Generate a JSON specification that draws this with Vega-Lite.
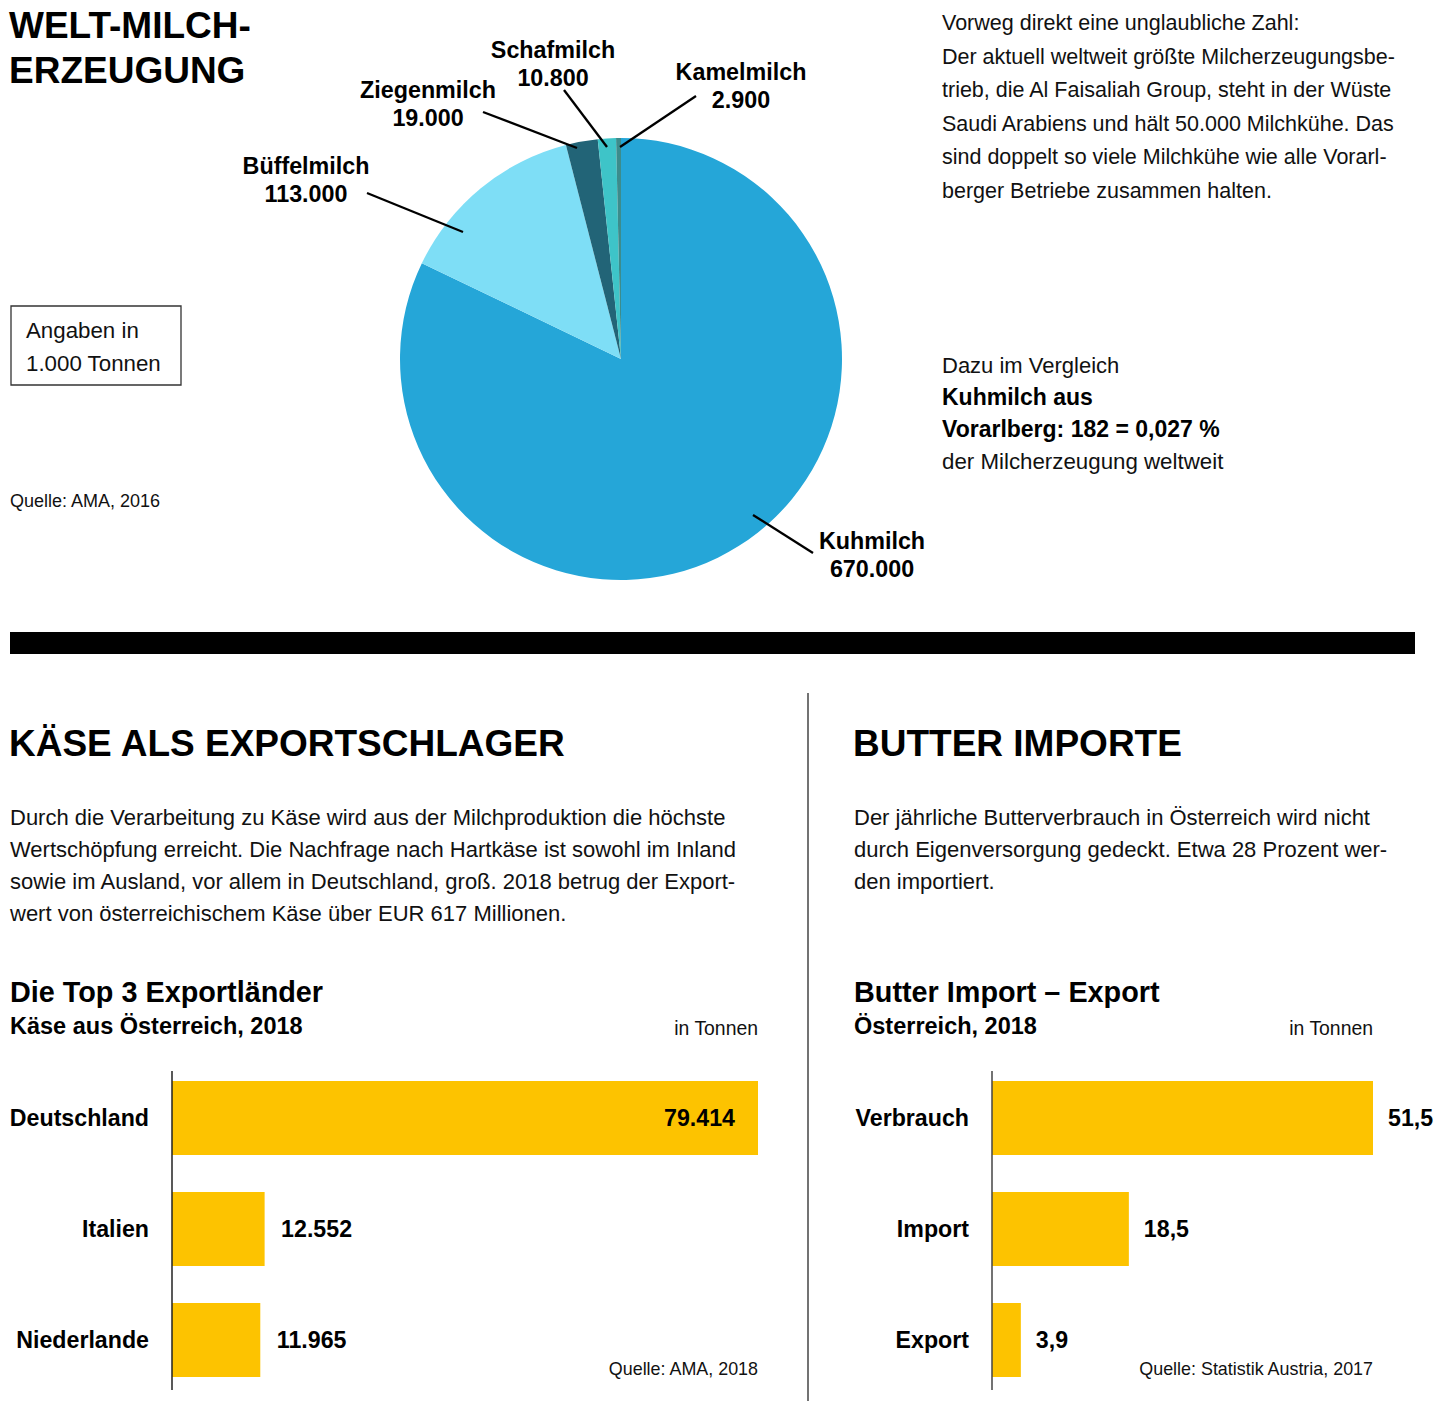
{
  "$schema": "https://vega.github.io/schema/vega-lite/v6.json",
  "width": 1440,
  "height": 1401,
  "autosize": {"type": "none"},
  "padding": 0,
  "background": "white",
  "config": {
    "view": {"stroke": null},
    "font": "Liberation Sans",
    "text": {"font": "Liberation Sans", "color": "#111111"},
    "locale": {"number": {"decimal": ",", "thousands": ".", "grouping": [3], "currency": ["", " €"]}}
  },
  "datasets": {
    "milch": [
      {"sorte": "Kuhmilch", "menge": 670000},
      {"sorte": "Büffelmilch", "menge": 113000},
      {"sorte": "Ziegenmilch", "menge": 19000},
      {"sorte": "Schafmilch", "menge": 10800},
      {"sorte": "Kamelmilch", "menge": 2900}
    ],
    "kaese": [
      {"land": "Deutschland", "tonnen": 79414},
      {"land": "Italien", "tonnen": 12552},
      {"land": "Niederlande", "tonnen": 11965}
    ],
    "butter": [
      {"kategorie": "Verbrauch", "tonnen": 51.5},
      {"kategorie": "Import", "tonnen": 18.5},
      {"kategorie": "Export", "tonnen": 3.9}
    ]
  },
  "data": {"values": [{}]},
  "layer": [
    {
      "data": {"name": "milch"},
      "mark": {"type": "arc", "outerRadius": 221, "x": 621, "y": 359},
      "encoding": {
        "theta": {"field": "menge", "type": "quantitative", "stack": true},
        "order": {"field": "menge", "type": "quantitative", "sort": "descending"},
        "color": {
          "field": "sorte", "type": "nominal", "legend": null,
          "scale": {
            "domain": ["Kuhmilch", "Büffelmilch", "Ziegenmilch", "Schafmilch", "Kamelmilch"],
            "range": ["#25A6D8", "#7EDEF6", "#226477", "#3EC4C8", "#3C8C8C"]
          }
        }
      }
    },
    {
      "data": {"name": "kaese"},
      "layer": [
        {
          "mark": {"type": "bar", "color": "#FDC300"},
          "encoding": {
            "y": {"field": "land", "type": "nominal", "sort": null, "axis": null, "scale": {"range": [1081, 1377], "paddingInner": 0.333, "paddingOuter": 0}},
            "x": {"field": "tonnen", "type": "quantitative", "axis": null, "scale": {"domain": [0, 79414], "range": [172, 758], "nice": false, "zero": true}}
          }
        },
        {
          "mark": {"type": "text", "align": "right", "baseline": "middle", "fontSize": 23.2, "fontWeight": "bold", "dx": -23, "dy": 1, "color": "#000"},
          "encoding": {
            "y": {"field": "land", "type": "nominal", "sort": null},
            "x": {"datum": 0, "type": "quantitative"},
            "text": {"field": "land"}
          }
        },
        {
          "transform": [{"filter": "datum.tonnen > 50000"}],
          "mark": {"type": "text", "align": "right", "baseline": "middle", "fontSize": 23.2, "fontWeight": "bold", "dx": -23, "dy": 1, "color": "#000"},
          "encoding": {
            "y": {"field": "land", "type": "nominal", "sort": null},
            "x": {"field": "tonnen", "type": "quantitative"},
            "text": {"field": "tonnen", "type": "quantitative", "format": ","}
          }
        },
        {
          "transform": [{"filter": "datum.tonnen <= 50000"}],
          "mark": {"type": "text", "align": "left", "baseline": "middle", "fontSize": 23.2, "fontWeight": "bold", "dx": 16.5, "dy": 1, "color": "#000"},
          "encoding": {
            "y": {"field": "land", "type": "nominal", "sort": null},
            "x": {"field": "tonnen", "type": "quantitative"},
            "text": {"field": "tonnen", "type": "quantitative", "format": ","}
          }
        },
        {
          "data": {"values": [{}]},
          "mark": {"type": "rule", "color": "#222", "strokeWidth": 1.5},
          "encoding": {
            "x": {"datum": 0, "type": "quantitative"},
            "y": {"value": 1071},
            "y2": {"value": 1390}
          }
        }
      ]
    },
    {
      "data": {"name": "butter"},
      "layer": [
        {
          "mark": {"type": "bar", "color": "#FDC300"},
          "encoding": {
            "y": {"field": "kategorie", "type": "nominal", "sort": null, "axis": null, "scale": {"range": [1081, 1377], "paddingInner": 0.333, "paddingOuter": 0}},
            "x": {"field": "tonnen", "type": "quantitative", "axis": null, "scale": {"domain": [0, 51.5], "range": [992, 1373], "nice": false, "zero": true}}
          }
        },
        {
          "mark": {"type": "text", "align": "right", "baseline": "middle", "fontSize": 23.2, "fontWeight": "bold", "dx": -23, "dy": 1, "color": "#000"},
          "encoding": {
            "y": {"field": "kategorie", "type": "nominal", "sort": null},
            "x": {"datum": 0, "type": "quantitative"},
            "text": {"field": "kategorie"}
          }
        },
        {
          "mark": {"type": "text", "align": "left", "baseline": "middle", "fontSize": 23.2, "fontWeight": "bold", "dx": 15, "dy": 1, "color": "#000"},
          "encoding": {
            "y": {"field": "kategorie", "type": "nominal", "sort": null},
            "x": {"field": "tonnen", "type": "quantitative"},
            "text": {"field": "tonnen", "type": "quantitative", "format": ".1f"}
          }
        },
        {
          "data": {"values": [{}]},
          "mark": {"type": "rule", "color": "#444", "strokeWidth": 1.5},
          "encoding": {
            "x": {"datum": 0, "type": "quantitative"},
            "y": {"value": 1071},
            "y2": {"value": 1390}
          }
        }
      ]
    },
    {"mark": {"type": "rule", "color": "#000", "strokeWidth": 2.3}, "encoding": {"x": {"value": 367}, "y": {"value": 193}, "x2": {"value": 463}, "y2": {"value": 232}}},
    {"mark": {"type": "rule", "color": "#000", "strokeWidth": 2.3}, "encoding": {"x": {"value": 483}, "y": {"value": 112}, "x2": {"value": 577}, "y2": {"value": 148}}},
    {"mark": {"type": "rule", "color": "#000", "strokeWidth": 2.3}, "encoding": {"x": {"value": 564}, "y": {"value": 90}, "x2": {"value": 607}, "y2": {"value": 147}}},
    {"mark": {"type": "rule", "color": "#000", "strokeWidth": 2.3}, "encoding": {"x": {"value": 696}, "y": {"value": 96}, "x2": {"value": 620}, "y2": {"value": 147}}},
    {"mark": {"type": "rule", "color": "#000", "strokeWidth": 2.3}, "encoding": {"x": {"value": 753}, "y": {"value": 515}, "x2": {"value": 813}, "y2": {"value": 553}}},
    {"mark": {"type": "rect", "color": "#000"}, "encoding": {"x": {"value": 10}, "x2": {"value": 1415}, "y": {"value": 632}, "y2": {"value": 654}}},
    {"mark": {"type": "rule", "color": "#444", "strokeWidth": 1.5}, "encoding": {"x": {"value": 808}, "y": {"value": 693}, "y2": {"value": 1401}}},
    {"mark": {"type": "rect", "fill": null, "fillOpacity": 0, "stroke": "#333", "strokeWidth": 1.3}, "encoding": {"x": {"value": 11}, "x2": {"value": 181}, "y": {"value": 306}, "y2": {"value": 385}}},
    {"mark": {"type": "text", "x": 9, "y": 38, "align": "left", "baseline": "alphabetic", "fontSize": 37, "fontWeight": "bold", "lineHeight": 45, "color": "#000", "text": ["WELT-MILCH-", "ERZEUGUNG"]}},
    {"mark": {"type": "text", "x": 942, "y": 30, "align": "left", "baseline": "alphabetic", "fontSize": 21.5, "lineHeight": 33.5, "text": ["Vorweg direkt eine unglaubliche Zahl:", "Der aktuell weltweit größte Milcherzeugungsbe-", "trieb, die Al Faisaliah Group, steht in der Wüste", "Saudi Arabiens und hält 50.000 Milchkühe. Das", "sind doppelt so viele Milchkühe wie alle Vorarl-", "berger Betriebe zusammen halten."]}},
    {"mark": {"type": "text", "x": 942, "y": 373, "align": "left", "baseline": "alphabetic", "fontSize": 22, "text": "Dazu im Vergleich"}},
    {"mark": {"type": "text", "x": 942, "y": 405, "align": "left", "baseline": "alphabetic", "fontSize": 23, "fontWeight": "bold", "lineHeight": 32, "color": "#000", "text": ["Kuhmilch aus", "Vorarlberg: 182 = 0,027 %"]}},
    {"mark": {"type": "text", "x": 942, "y": 469, "align": "left", "baseline": "alphabetic", "fontSize": 22.3, "text": "der Milcherzeugung weltweit"}},
    {"mark": {"type": "text", "x": 26, "y": 338, "align": "left", "baseline": "alphabetic", "fontSize": 22.3, "lineHeight": 33, "text": ["Angaben in", "1.000 Tonnen"]}},
    {"mark": {"type": "text", "x": 10, "y": 507, "align": "left", "baseline": "alphabetic", "fontSize": 18, "text": "Quelle: AMA, 2016"}},
    {"mark": {"type": "text", "x": 553, "y": 58, "align": "center", "baseline": "alphabetic", "fontSize": 23.3, "fontWeight": "bold", "lineHeight": 27.5, "color": "#000", "text": ["Schafmilch", "10.800"]}},
    {"mark": {"type": "text", "x": 428, "y": 98, "align": "center", "baseline": "alphabetic", "fontSize": 23.3, "fontWeight": "bold", "lineHeight": 28, "color": "#000", "text": ["Ziegenmilch", "19.000"]}},
    {"mark": {"type": "text", "x": 741, "y": 80, "align": "center", "baseline": "alphabetic", "fontSize": 23.3, "fontWeight": "bold", "lineHeight": 27.5, "color": "#000", "text": ["Kamelmilch", "2.900"]}},
    {"mark": {"type": "text", "x": 306, "y": 174, "align": "center", "baseline": "alphabetic", "fontSize": 23.3, "fontWeight": "bold", "lineHeight": 28, "color": "#000", "text": ["Büffelmilch", "113.000"]}},
    {"mark": {"type": "text", "x": 872, "y": 549, "align": "center", "baseline": "alphabetic", "fontSize": 23.3, "fontWeight": "bold", "lineHeight": 28, "color": "#000", "text": ["Kuhmilch", "670.000"]}},
    {"mark": {"type": "text", "x": 9, "y": 756, "align": "left", "baseline": "alphabetic", "fontSize": 37, "fontWeight": "bold", "color": "#000", "text": "KÄSE ALS EXPORTSCHLAGER"}},
    {"mark": {"type": "text", "x": 853, "y": 756, "align": "left", "baseline": "alphabetic", "fontSize": 37, "fontWeight": "bold", "color": "#000", "text": "BUTTER IMPORTE"}},
    {"mark": {"type": "text", "x": 10, "y": 825, "align": "left", "baseline": "alphabetic", "fontSize": 22, "lineHeight": 32, "text": ["Durch die Verarbeitung zu Käse wird aus der Milchproduktion die höchste", "Wertschöpfung erreicht. Die Nachfrage nach Hartkäse ist sowohl im Inland", "sowie im Ausland, vor allem in Deutschland, groß. 2018 betrug der Export-", "wert von österreichischem Käse über EUR 617 Millionen."]}},
    {"mark": {"type": "text", "x": 854, "y": 825, "align": "left", "baseline": "alphabetic", "fontSize": 22, "lineHeight": 32, "text": ["Der jährliche Butterverbrauch in Österreich wird nicht", "durch Eigenversorgung gedeckt. Etwa 28 Prozent wer-", "den importiert."]}},
    {"mark": {"type": "text", "x": 10, "y": 1002, "align": "left", "baseline": "alphabetic", "fontSize": 28.8, "fontWeight": "bold", "color": "#000", "text": "Die Top 3 Exportländer"}},
    {"mark": {"type": "text", "x": 10, "y": 1034, "align": "left", "baseline": "alphabetic", "fontSize": 23.5, "fontWeight": "bold", "color": "#000", "text": "Käse aus Österreich, 2018"}},
    {"mark": {"type": "text", "x": 758, "y": 1035, "align": "right", "baseline": "alphabetic", "fontSize": 19.4, "text": "in Tonnen"}},
    {"mark": {"type": "text", "x": 854, "y": 1002, "align": "left", "baseline": "alphabetic", "fontSize": 28.8, "fontWeight": "bold", "color": "#000", "text": "Butter Import – Export"}},
    {"mark": {"type": "text", "x": 854, "y": 1034, "align": "left", "baseline": "alphabetic", "fontSize": 23.5, "fontWeight": "bold", "color": "#000", "text": "Österreich, 2018"}},
    {"mark": {"type": "text", "x": 1373, "y": 1035, "align": "right", "baseline": "alphabetic", "fontSize": 19.4, "text": "in Tonnen"}},
    {"mark": {"type": "text", "x": 758, "y": 1375, "align": "right", "baseline": "alphabetic", "fontSize": 17.9, "text": "Quelle: AMA, 2018"}},
    {"mark": {"type": "text", "x": 1373, "y": 1375, "align": "right", "baseline": "alphabetic", "fontSize": 17.9, "text": "Quelle: Statistik Austria, 2017"}}
  ],
  "resolve": {"scale": {"x": "independent", "y": "independent", "theta": "independent", "color": "independent"}}
}
